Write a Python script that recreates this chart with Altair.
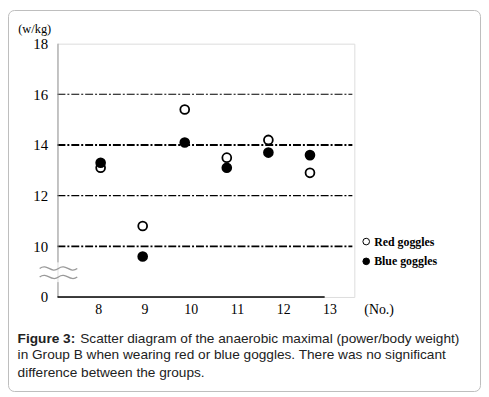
import altair as alt
import pandas as pd

# ---- data ----
subject_pos = [8.05, 8.96, 9.87, 10.78, 11.68, 12.58]
red_goggles = [13.1, 10.8, 15.4, 13.5, 14.2, 12.9]
blue_goggles = [13.3, 9.6, 14.1, 13.1, 13.7, 13.6]
series_names = ["Red goggles", "Blue goggles"]
x_ticks = [8, 9, 10, 11, 12, 13]
y_ticks = [8, 10, 12, 14, 16, 18]
grid_major = [10, 14]
grid_minor = [12, 16]

rows = []
for name, vals in zip(series_names, [red_goggles, blue_goggles]):
    for xp, v in zip(subject_pos, vals):
        rows.append({"x": xp, "y": v, "series": name})
df = pd.DataFrame(rows)

one = pd.DataFrame({"a": [0]})

xs = alt.Scale(domain=[7.116, 13.54], nice=False, zero=False)
ys = alt.Scale(domain=[8, 18], nice=False, zero=False)

serif = "Liberation Serif"
sans = "Liberation Sans"

y_axis = alt.Axis(
    values=y_ticks, grid=False, ticks=False, domain=False, title=None,
    labelExpr="datum.value == 8 ? '0' : '' + datum.value",
    labelFont=serif, labelFontSize=15, labelColor="black", labelPadding=10)

border = alt.Chart(one).mark_rect(
    fill=None, stroke="#bdbdbd", strokeWidth=1, cornerRadius=6
).encode(x=alt.value(-49.5), x2=alt.value(427.5), y=alt.value(-33.5), y2=alt.value(351.5))

def grid(vals, w):
    return alt.Chart(pd.DataFrame({"y": vals})).mark_rule(
        color="black", strokeWidth=w, strokeDash=[8, 2, 2, 2]
    ).encode(y=alt.Y("y:Q", scale=ys, axis=y_axis), x=alt.value(0), x2=alt.value(298))

yaxis_top = alt.Chart(one).mark_rule(color="#9a9a9a", strokeWidth=1).encode(
    x=alt.value(0.5), y=alt.value(0), y2=alt.value(221))
yaxis_bot = alt.Chart(one).mark_rule(color="#9a9a9a", strokeWidth=1).encode(
    x=alt.value(0.5), y=alt.value(241), y2=alt.value(256))
xaxis = alt.Chart(one).mark_rule(color="black", strokeWidth=1.3).encode(
    x=alt.value(0), x2=alt.value(270), y=alt.value(256))

squiggle_path = ("M-1,-0.15 C-0.6,-0.45 -0.4,0.15 0,-0.15 C0.4,-0.45 0.6,0.15 1,-0.15 "
                 "M-1,0.3 C-0.6,0 -0.4,0.6 0,0.3 C0.4,0 0.6,0.6 1,0.3")
squiggle = alt.Chart(one).mark_point(
    shape=squiggle_path, size=1444, filled=False, stroke="#9a9a9a", strokeWidth=1.3, opacity=1
).encode(x=alt.value(1), y=alt.value(230))

points = alt.Chart(df).mark_point(
    filled=True, stroke="black", strokeWidth=1.8, size=80, opacity=1
).encode(
    x=alt.X("x:Q", scale=xs, axis=alt.Axis(
        values=x_ticks, grid=False, ticks=False, domain=False, title=None,
        labelFont=serif, labelFontSize=14, labelColor="black", labelPadding=6)),
    y=alt.Y("y:Q", scale=ys, axis=y_axis),
    fill=alt.Fill("series:N", sort=series_names,
                  scale=alt.Scale(domain=series_names, range=["white", "black"]),
                  legend=alt.Legend(orient="none", legendX=306, legendY=194, title=None,
                                    symbolType="circle", symbolSize=45,
                                    symbolStrokeColor="black", symbolStrokeWidth=1,
                                    labelFont=serif, labelFontWeight="bold",
                                    labelFontSize=12, labelColor="black",
                                    rowPadding=8, labelOffset=2)),
    order=alt.Order("series:N", sort="descending"),
)

def txt(s, x, y, font=serif, size=12, weight="normal", align="center", color="black"):
    return alt.Chart(one).mark_text(
        text=s, font=font, fontSize=size, fontWeight=weight, align=align,
        baseline="middle", color=color
    ).encode(x=alt.value(x), y=alt.value(y))

unit_y = txt("(w/kg)", -23, -15, size=12.5)
unit_x = txt("(No.)", 325, 269, size=14)

cap_color = "#222222"
cs = 13.8
cap1a = txt("Figure 3:", -40.3, 298, font=sans, size=cs, weight="bold", align="left", color=cap_color)
cap1b = txt("Scatter diagram of the anaerobic maximal (power/body weight)", 23, 298,
            font=sans, size=cs, align="left", color=cap_color)
cap2 = txt("in Group B when wearing red or blue goggles. There was no significant", -40.3, 315,
           font=sans, size=cs, align="left", color=cap_color)
cap3 = txt("difference between the groups.", -40.3, 333,
           font=sans, size=cs, align="left", color=cap_color)

chart = alt.layer(
    border, grid(grid_minor, 1.1), grid(grid_major, 1.8), yaxis_top, yaxis_bot, xaxis,
    squiggle, points, unit_y, unit_x, cap1a, cap1b, cap2, cap3
).properties(
    width=300, height=256,
    autosize=alt.AutoSizeParams(type="none"),
    padding={"left": 50, "top": 34, "right": 128, "bottom": 96},
).configure_view(stroke=None).configure(background="white")

chart.save("out.html", embed_options={"renderer": "svg", "actions": False})
